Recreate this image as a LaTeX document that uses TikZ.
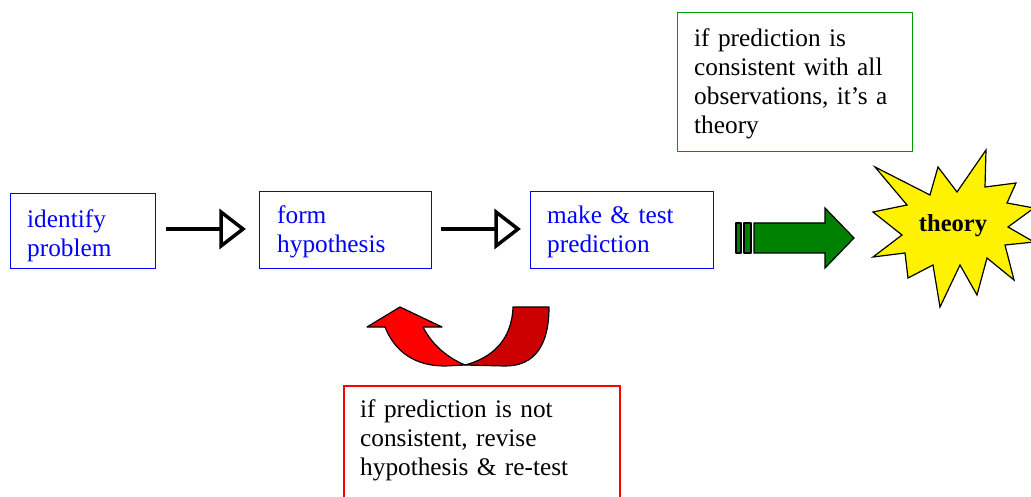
\documentclass[tikz,border=0pt]{standalone}
\usepackage{fontspec}
\setmainfont{Liberation Serif}
\definecolor{gbox}{RGB}{0,153,0}
\definecolor{garrow}{RGB}{0,128,0}
\definecolor{dred}{RGB}{204,0,0}
\begin{document}
\begin{tikzpicture}[x=1pt,y=-1pt,
  txt/.style={font=\fontsize{25.3}{29}\selectfont, align=left, inner sep=0pt},
  bluebox/.style={draw=blue, line width=1.2pt, anchor=north west, inner sep=0pt},
  bluetxt/.style={txt, text=blue, anchor=west},
  thinarrow/.style={line width=4.5pt, black},
  openhead/.style={draw=black, line width=3.5pt, fill=white, line join=miter},
  outl/.style={draw=black, line width=1.2pt, line join=round}]
\useasboundingbox (0,0) rectangle (1031,497);
\clip (0,0) rectangle (1031,497);

% process boxes
\node[bluebox, minimum width=145pt, minimum height=75pt] (b1) at (10,193) {};
\node[bluetxt, text width=120pt] (t1) at ([shift={(17,4.5)}]b1.west) {identify\\problem};
\node[bluebox, minimum width=172pt, minimum height=77pt] (b2) at (259,191) {};
\node[bluetxt, text width=145pt] (t2) at ([shift={(18,2)}]b2.west) {form\\hypothesis};
\node[bluebox, minimum width=183pt, minimum height=77pt] (b3) at (530,191) {};
\node[bluetxt, text width=160pt] (t3) at ([shift={(17,2)}]b3.west) {make \& test\\prediction};

% green note
\node[draw=gbox, line width=1.2pt, anchor=north west, minimum width=235pt, minimum height=139pt, inner sep=0pt] (gn) at (677,12) {};
\node[txt, anchor=west, text width=215pt] (gt) at ([shift={(17,2)}]gn.west) {if prediction is\\consistent with all\\observations, it’s a\\theory};

% red note
\node[txt, anchor=north west, text width=240pt] (rn) at (360,399) {if prediction is not\\consistent, revise\\hypothesis \& re-test};
\draw[red, line width=1.2pt] (344,520) -- (344,386) -- (620,386) -- (620,520);

% open arrows between boxes
\coordinate (a1s) at (166,229); \coordinate (a1e) at (222,229);
\draw[thinarrow] (a1s) -- (a1e);
\draw[openhead] (221,212) -- (243,229) -- (221,246) -- cycle;
\coordinate (a2s) at (441,229); \coordinate (a2e) at (497,229);
\draw[thinarrow] (a2s) -- (a2e);
\draw[openhead] (496,212) -- (518,229) -- (496,246) -- cycle;

% green striped block arrow
\draw[outl, fill=garrow] (736,223) rectangle (741,253);
\draw[outl, fill=garrow] (744,223) rectangle (751,253);
\draw[outl, fill=garrow, line join=miter] (754,223) -- (825,223) -- (825,208) -- (854,238) -- (825,268) -- (825,253) -- (754,253) -- cycle;

% star
\draw[outl, fill=yellow, line join=miter] (875,167) -- (930,195) -- (938,167) -- (957,192) -- (986,150) -- (985,187)
  -- (1016,183) -- (1007,203) -- (1034,208) -- (1008,227) -- (1034,242) -- (1005,245)
  -- (1014,280) -- (987,258) -- (977,295) -- (960,265) -- (940,307) -- (933,265)
  -- (908,278) -- (905,253) -- (873,257) -- (902,235) -- (873,212) -- (907,205) -- cycle;
\node[font=\fontsize{24.5}{28}\selectfont\bfseries, inner sep=0pt] (th) at (953,226) {theory};

% red U-turn arrow
\draw[outl, fill=dred] (465,365) .. controls (492,358) and (512,340) .. (513,307) -- (549,307)
  .. controls (549,345) and (535,366) .. (505,366) -- cycle;
\draw[outl, fill=red] (465,365) -- (445,366) .. controls (415,366) and (395,352) .. (385,327)
  -- (367,327) -- (400,307) -- (442,327) -- (423,327) .. controls (432,345) and (448,358) .. (465,365) -- cycle;
\end{tikzpicture}
\end{document}
